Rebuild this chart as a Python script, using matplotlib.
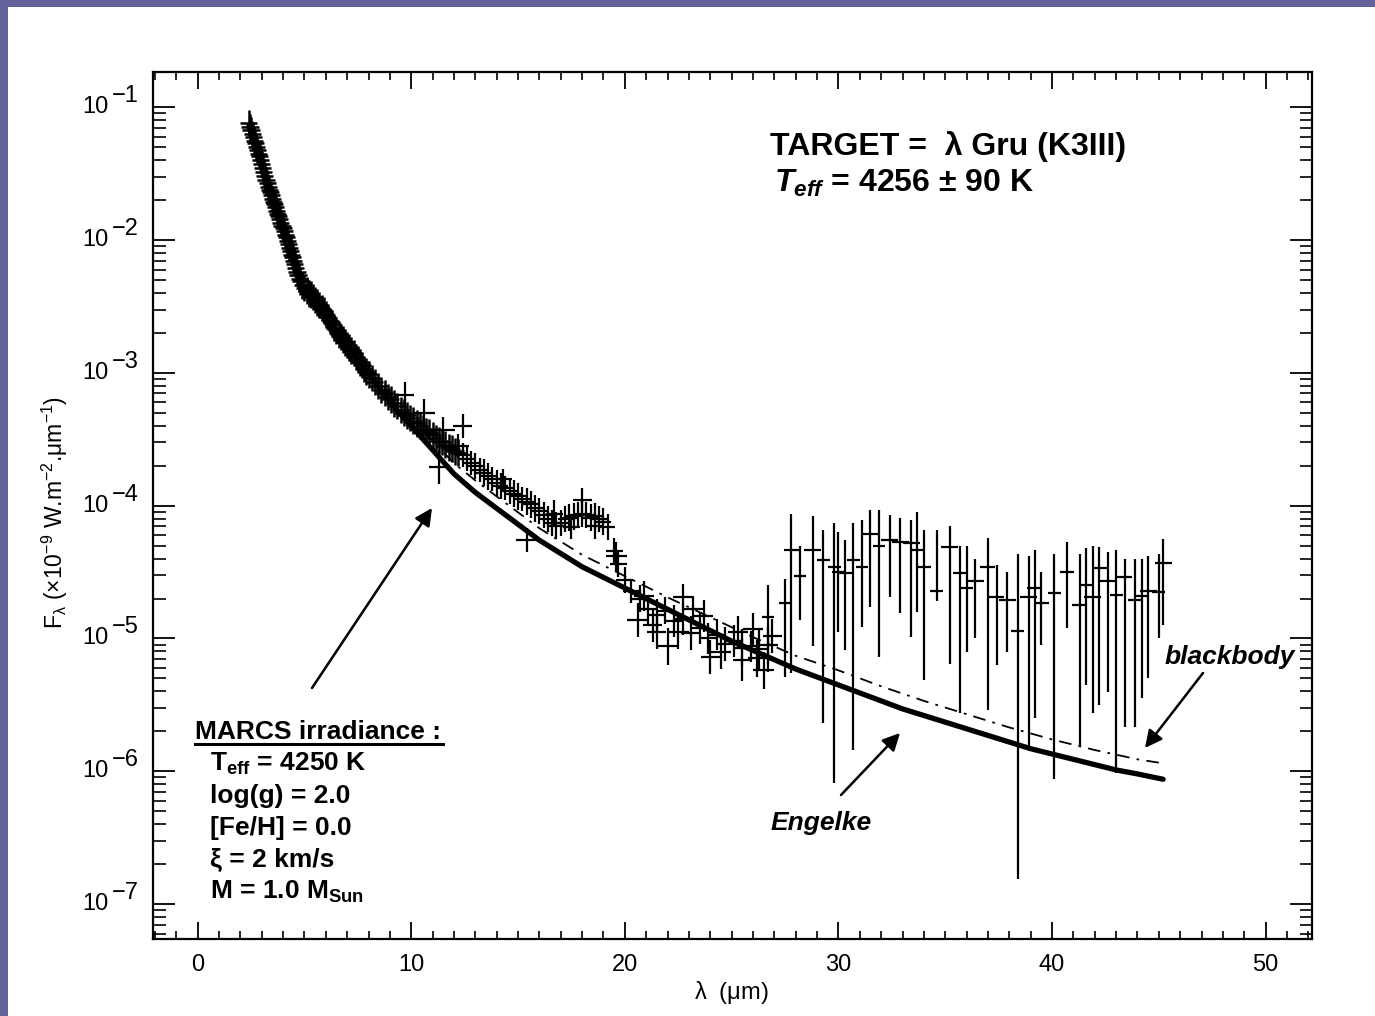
import numpy as np
import matplotlib
matplotlib.use('Agg')
import matplotlib.pyplot as plt
import matplotlib.transforms as mtransforms
from matplotlib.lines import Line2D
from matplotlib.patches import Rectangle
from matplotlib.ticker import MultipleLocator, LogLocator, NullFormatter

plt.rcParams['font.family'] = ['Liberation Sans', 'DejaVu Sans']
plt.rcParams['mathtext.fontset'] = 'custom'
plt.rcParams['mathtext.rm'] = 'Liberation Sans'
plt.rcParams['mathtext.it'] = 'Liberation Sans:bold:italic'
plt.rcParams['mathtext.bf'] = 'Liberation Sans:bold'

# ---- data (wavelength in micron, flux as log10 of F_lambda) ----
# dense short-wavelength spectrum
lam_a = [2.40, 2.45, 2.50, 2.55, 2.60, 2.65, 2.70, 2.75, 2.80, 2.85, 2.90, 2.95,
         3.00, 3.05, 3.10, 3.15, 3.20, 3.25, 3.30, 3.35, 3.40, 3.45, 3.50, 3.55,
         3.60, 3.65, 3.70, 3.75, 3.80, 3.85, 3.90, 3.95, 4.00, 4.05, 4.10, 4.15,
         4.20, 4.25, 4.30, 4.35, 4.40, 4.45, 4.50, 4.55, 4.60, 4.65, 4.70, 4.75,
         4.80, 4.90, 5.00, 5.10, 5.20, 5.30, 5.40, 5.50, 5.60, 5.70, 5.80, 5.90,
         6.00, 6.10, 6.20, 6.30, 6.40, 6.50, 6.60, 6.70, 6.80, 6.90, 7.00, 7.10,
         7.20, 7.30, 7.40, 7.50, 7.60, 7.70, 7.80, 7.90, 8.00, 8.15, 8.30, 8.45,
         8.60, 8.75, 8.90, 9.05, 9.20, 9.35, 9.50, 9.65, 9.80, 9.95, 10.1, 10.25,
         10.4, 10.55, 10.7, 10.85, 11.0, 11.15, 11.3, 11.45, 11.6, 11.75, 11.9, 12.05,
         12.2]
logf_a = [-1.12, -1.15, -1.17, -1.20, -1.22, -1.25, -1.27, -1.30, -1.32, -1.35, -1.37, -1.40,
          -1.43, -1.46, -1.49, -1.52, -1.55, -1.57, -1.60, -1.62, -1.64, -1.66, -1.69, -1.71,
          -1.73, -1.75, -1.78, -1.80, -1.82, -1.84, -1.87, -1.89, -1.91, -1.93, -1.96, -1.98,
          -2.01, -2.03, -2.06, -2.08, -2.11, -2.13, -2.16, -2.18, -2.21, -2.24, -2.26, -2.29,
          -2.31, -2.34, -2.36, -2.38, -2.40, -2.41, -2.43, -2.45, -2.47, -2.49, -2.51, -2.53,
          -2.56, -2.58, -2.61, -2.63, -2.66, -2.68, -2.71, -2.73, -2.75, -2.77, -2.79, -2.81,
          -2.83, -2.85, -2.88, -2.90, -2.92, -2.94, -2.97, -2.99, -3.01, -3.04, -3.07, -3.10,
          -3.13, -3.15, -3.18, -3.20, -3.23, -3.25, -3.28, -3.30, -3.32, -3.34, -3.36, -3.38,
          -3.40, -3.42, -3.44, -3.45, -3.47, -3.49, -3.51, -3.52, -3.54, -3.56, -3.57, -3.59,
          -3.60]
xerr_a = 0.4
yerr_a = 0.1

# mid-infrared points
lam_b = [12.4, 12.6, 12.8, 13.0, 13.2, 13.4, 13.6, 13.8, 14.0, 14.2, 14.4, 14.6,
         14.8, 15.0, 15.2, 15.4, 15.6, 15.8, 16.0, 16.2, 16.4, 16.6, 16.8, 17.0,
         17.2, 17.4, 17.6, 17.8, 18.0, 18.2, 18.4, 18.6, 18.8, 19.0, 19.2,
         19.5, 19.7, 20.0, 20.3, 20.7, 21.1, 21.5, 21.9, 22.3, 22.7, 23.1, 23.5,
         23.9, 24.3, 24.7, 25.1, 25.5, 25.9, 26.3, 26.7,
         9.7, 10.6, 11.5, 12.2, 11.3, 12.4, 15.4, 18.0, 17.5, 19.6, 20.6, 22.0,
         22.7, 21.5, 23.2, 24.0, 25.5, 26.5, 26.0, 20.9, 21.3, 22.5, 23.7, 24.5,
         25.3, 26.2, 26.9, 14.3, 16.7, 18.6]
logf_b = [-3.62, -3.65, -3.68, -3.70, -3.73, -3.75, -3.78, -3.80, -3.83, -3.85, -3.87, -3.89,
          -3.91, -3.93, -3.95, -3.97, -3.99, -4.02, -4.04, -4.07, -4.10, -4.13, -4.15, -4.13,
          -4.10, -4.09, -4.08, -4.07, -4.06, -4.07, -4.09, -4.08, -4.10, -4.12, -4.16,
          -4.34, -4.44, -4.56, -4.64, -4.70, -4.78, -4.82, -4.79, -4.87, -4.85, -4.96, -4.92,
          -5.00, -4.97, -5.04, -5.02, -5.07, -5.06, -5.08, -5.05,
          -3.17, -3.30, -3.43, -3.55, -3.71, -3.40, -4.26, -3.96, -4.16, -4.38, -4.86, -5.06,
          -4.69, -4.95, -4.78, -5.14, -5.16, -5.24, -4.93, -4.68, -4.90, -4.95, -4.83, -5.10,
          -4.95, -5.15, -4.98, -3.80, -4.06, -4.15]
xerr_b = [0.35, 0.35, 0.35, 0.35, 0.35, 0.35, 0.35, 0.35, 0.35, 0.35, 0.35, 0.35,
          0.35, 0.35, 0.35, 0.35, 0.35, 0.35, 0.35, 0.35, 0.35, 0.35, 0.35, 0.35,
          0.35, 0.35, 0.35, 0.35, 0.35, 0.35, 0.35, 0.35, 0.35, 0.35, 0.35,
          0.4, 0.4, 0.4, 0.4, 0.4, 0.4, 0.45, 0.45, 0.45, 0.45, 0.45, 0.45,
          0.45, 0.45, 0.45, 0.45, 0.45, 0.45, 0.45, 0.45,
          0.45, 0.5, 0.55, 0.5, 0.45, 0.45, 0.5, 0.45, 0.4, 0.5, 0.5, 0.55,
          0.45, 0.45, 0.5, 0.45, 0.45, 0.5, 0.45, 0.45, 0.45, 0.5, 0.45, 0.45,
          0.45, 0.45, 0.45, 0.4, 0.4, 0.4]
yerr_b = [0.09, 0.09, 0.09, 0.10, 0.09, 0.10, 0.10, 0.09, 0.10, 0.10, 0.09, 0.10,
          0.10, 0.10, 0.09, 0.10, 0.10, 0.10, 0.10, 0.10, 0.10, 0.10, 0.10, 0.10,
          0.10, 0.10, 0.10, 0.10, 0.10, 0.10, 0.10, 0.10, 0.10, 0.10, 0.10,
          0.10, 0.10, 0.10, 0.09, 0.10, 0.11, 0.12, 0.10, 0.12, 0.12, 0.13, 0.12,
          0.12, 0.12, 0.13, 0.12, 0.14, 0.12, 0.16, 0.14,
          0.10, 0.10, 0.10, 0.09, 0.13, 0.09, 0.09, 0.09, 0.09, 0.11, 0.13, 0.14,
          0.10, 0.13, 0.10, 0.13, 0.16, 0.14, 0.12, 0.11, 0.13, 0.13, 0.12, 0.13,
          0.12, 0.14, 0.13, 0.08, 0.10, 0.10]

# long-wavelength band with large error bars
lam_c = [26.7, 27.5, 27.8, 28.2, 28.8, 29.3, 29.8, 30.3, 30.7, 31.1, 31.5, 31.9,
         32.4, 32.9, 33.4, 34.0, 34.6, 35.2, 35.7, 36.4, 37.0, 37.4, 37.9, 38.4,
         38.9, 39.5, 40.1, 40.7, 41.3, 41.9, 42.2, 42.6, 43.0, 43.4, 43.9, 44.5,
         45.0, 45.2, 30.0, 33.7, 36.0, 39.2, 41.6, 44.2]
logf_c = [-4.84, -4.73, -4.33, -4.53, -4.33, -4.41, -4.46, -4.51, -4.41, -4.46, -4.21, -4.30,
          -4.26, -4.27, -4.28, -4.46, -4.64, -4.31, -4.51, -4.57, -4.46, -4.69, -4.71, -4.94,
          -4.69, -4.73, -4.66, -4.50, -4.75, -4.69, -4.47, -4.57, -4.67, -4.54, -4.71, -4.64,
          -4.65, -4.43, -4.50, -4.33, -4.62, -4.62, -4.60, -4.68]
xerr_c = [0.3, 0.3, 0.35, 0.3, 0.4, 0.3, 0.3, 0.35, 0.3, 0.3, 0.4, 0.3,
          0.4, 0.4, 0.4, 0.35, 0.3, 0.4, 0.35, 0.4, 0.35, 0.35, 0.4, 0.3,
          0.4, 0.35, 0.3, 0.35, 0.35, 0.4, 0.35, 0.35, 0.3, 0.35, 0.35, 0.4,
          0.3, 0.4, 0.3, 0.35, 0.3, 0.35, 0.3, 0.3]
loglo_c = [-5.25, -5.29, -5.26, -4.86, -5.06, -5.64, -6.09, -5.09, -5.84, -4.91, -4.76, -5.14,
           -4.69, -4.81, -4.99, -5.31, -4.72, -5.19, -5.56, -5.00, -5.54, -5.20, -5.10, -6.81,
           -5.82, -5.05, -6.06, -4.92, -5.82, -5.56, -5.50, -5.40, -6.01, -5.67, -5.67, -5.30,
           -5.00, -4.90, -4.95, -4.80, -5.10, -5.60, -5.35, -5.45]
loghi_c = [-4.60, -4.55, -4.06, -4.30, -4.08, -4.18, -4.13, -4.26, -4.13, -4.11, -4.03, -4.03,
           -4.07, -4.09, -4.11, -4.18, -4.18, -4.15, -4.30, -4.40, -4.24, -4.45, -4.50, -4.36,
           -4.38, -4.50, -4.36, -4.27, -4.36, -4.30, -4.31, -4.35, -4.33, -4.40, -4.40, -4.38,
           -4.36, -4.25, -4.20, -4.05, -4.30, -4.33, -4.32, -4.40]

# Engelke model curve
lam_eng = [2.4, 2.8, 3.2, 3.6, 4.0, 4.4, 4.8, 5.5, 6.5, 7.5, 8.5, 9.0, 9.5, 10.0, 10.5,
           11.0, 11.5, 12.0, 12.5, 13.0, 13.5, 14.0, 14.5, 15.0, 15.5, 16.0, 16.5, 17.0,
           17.5, 18.0, 18.5, 19.0, 19.5, 20.0, 21.0, 22.0, 23.0, 24.0, 25.0, 26.0, 27.0,
           28.0, 29.0, 30.0, 31.0, 32.0, 33.0, 34.0, 35.0, 36.0, 37.0, 38.0, 39.0, 40.0,
           41.0, 42.0, 43.0, 44.0, 45.2]
logf_eng = [-1.14, -1.34, -1.55, -1.74, -1.92, -2.12, -2.32, -2.46, -2.70, -2.90, -3.11, -3.21,
            -3.31, -3.40, -3.49, -3.58, -3.67, -3.76, -3.83, -3.90, -3.96, -4.02, -4.08, -4.14,
            -4.20, -4.26, -4.31, -4.36, -4.41, -4.46, -4.50, -4.54, -4.58, -4.62, -4.70, -4.78,
            -4.86, -4.94, -5.02, -5.09, -5.16, -5.23, -5.29, -5.35, -5.41, -5.47, -5.53, -5.58,
            -5.63, -5.68, -5.73, -5.78, -5.83, -5.87, -5.91, -5.95, -5.99, -6.02, -6.06]

# blackbody curve
lam_bb = [2.4, 3.0, 4.0, 5.0, 6.0, 7.0, 8.0, 9.0, 10.0, 11.0, 12.0, 13.0, 14.0, 15.0,
          16.0, 17.0, 18.0, 19.0, 20.0, 22.0, 24.0, 26.0, 28.0, 30.0, 32.0, 34.0, 36.0,
          38.0, 40.0, 42.0, 44.0, 45.2]
logf_bb = [-1.14, -1.45, -1.91, -2.34, -2.55, -2.77, -2.96, -3.16, -3.34, -3.51, -3.68, -3.81,
           -3.93, -4.05, -4.17, -4.27, -4.37, -4.45, -4.53, -4.69, -4.84, -4.99, -5.13, -5.24,
           -5.36, -5.47, -5.57, -5.67, -5.76, -5.84, -5.91, -5.94]

y_decades = [-7, -6, -5, -4, -3, -2, -1]
x_ticks = [0, 10, 20, 30, 40, 50]

W, H = 1375, 1016

def fx(px):
    return px / W

def fy(py):
    return 1 - py / H

fig = plt.figure(figsize=(W / 100, H / 100), dpi=100)
fig.patch.set_facecolor('#62639a')
fig.add_artist(Rectangle((fx(8), 0), 1, fy(7), transform=fig.transFigure,
                         facecolor='white', edgecolor='none', zorder=-10))

ax = fig.add_axes([fx(153), fy(939), fx(1312) - fx(153), fy(72) - fy(939)])
ax.set_facecolor('white')
ax.set_yscale('log')
ax.set_xlim(-2.09, 52.17)
ax.set_ylim(10 ** -7.263, 10 ** -0.734)

# lines
ax.plot(lam_bb, 10 ** np.array(logf_bb), color='k', lw=1.3, dashes=(7, 4, 1.5, 4), zorder=2)
ax.plot(lam_eng, 10 ** np.array(logf_eng), color='k', lw=3.8, solid_capstyle='round',
        solid_joinstyle='round', zorder=3)

# data crosses
f_a = 10 ** np.array(logf_a)
ax.errorbar(lam_a, f_a, xerr=xerr_a,
            yerr=[f_a - f_a * 10 ** -yerr_a, f_a * 10 ** yerr_a - f_a],
            fmt='none', ecolor='k', elinewidth=1.8, capsize=0, zorder=4)

f_b = 10 ** np.array(logf_b)
eb = np.array(yerr_b)
ax.errorbar(lam_b, f_b, xerr=xerr_b,
            yerr=[f_b - f_b * 10 ** -eb, f_b * 10 ** eb - f_b],
            fmt='none', ecolor='k', elinewidth=1.6, capsize=0, zorder=4)

f_c = 10 ** np.array(logf_c)
ax.errorbar(lam_c, f_c, xerr=xerr_c,
            yerr=[f_c - 10 ** np.array(loglo_c), 10 ** np.array(loghi_c) - f_c],
            fmt='none', ecolor='k', elinewidth=1.6, capsize=0, zorder=4)

# axes styling
for s in ax.spines.values():
    s.set_linewidth(1.6)
ax.xaxis.set_minor_locator(MultipleLocator(1))
ax.set_xticks(x_ticks)
ax.set_xticklabels([str(t) for t in x_ticks])
ax.yaxis.set_major_locator(LogLocator(base=10, numticks=20))
ax.yaxis.set_minor_locator(LogLocator(base=10, subs=np.arange(2, 10), numticks=20))
ax.yaxis.set_minor_formatter(NullFormatter())
ax.tick_params(which='both', direction='in', top=True, right=True, colors='k')
ax.tick_params(axis='x', which='major', length=12, width=1.3, labelsize=17, pad=11)
ax.tick_params(axis='x', which='minor', length=6, width=1.2)
ax.tick_params(axis='y', which='major', length=16, width=1.3, labelleft=False)
ax.tick_params(axis='y', which='minor', length=9, width=1.2)

# y tick labels drawn as 10 with a raised exponent
trans = mtransforms.blended_transform_factory(ax.transAxes, ax.transData)
trans_up = mtransforms.offset_copy(trans, fig=fig, x=0, y=11, units='dots')
for e in y_decades:
    ax.text(-0.0385, 10.0 ** e, '10', transform=trans, ha='right', va='center', fontsize=17)
    ax.text(-0.0355, 10.0 ** e, '\u2212%d' % (-e), transform=trans_up, ha='left', va='center',
            fontsize=17)

fig.text(fx(731), fy(993), r'$\mathrm{\lambda}$  ($\mathrm{\mu}$m)', ha='center', va='center',
         fontsize=17)
fig.text(fx(55), fy(512),
         r'F$_{\mathrm{\lambda}}$ ($\mathrm{\times}$10$^{\mathrm{-9}}$ W.m$^{\mathrm{-2}}$.$\mathrm{\mu}$m$^{\mathrm{-1}}$)',
         rotation=90, ha='center', va='center', fontsize=16.5)

# annotations
fig.text(fx(770), fy(155), 'TARGET =  \u03bb Gru (K3III)', fontsize=23, fontweight='bold',
         ha='left', va='baseline')
fig.text(fx(774), fy(192), '$\\mathit{T}_{\\mathit{eff}}$ = 4256 \u00b1 90 K',
         fontsize=23, fontweight='bold', ha='left', va='baseline')

fig.text(fx(195), fy(739), 'MARCS irradiance :', fontsize=19, fontweight='bold',
         ha='left', va='baseline')
fig.add_artist(Line2D([fx(195), fx(443)], [fy(744), fy(744)], color='k', lw=2.2))
marcs_lines = [r'$\mathbf{T}_{\mathbf{eff}}$ = 4250 K', 'log(g) = 2.0', '[Fe/H] = 0.0',
               '\u03be = 2 km/s', r'M = 1.0 $\mathbf{M}_{\mathbf{Sun}}$']
for i, t in enumerate(marcs_lines):
    fig.text(fx(210), fy(771 + 32 * i), t, fontsize=19, fontweight='bold',
             ha='left', va='baseline')

fig.text(fx(771), fy(830), 'Engelke', fontsize=19, fontweight='bold', fontstyle='italic',
         ha='left', va='baseline')
fig.text(fx(1165), fy(664), 'blackbody', fontsize=19, fontweight='bold', fontstyle='italic',
         ha='left', va='baseline')

arrow = dict(arrowstyle='-|>', mutation_scale=26, lw=1.8, color='k', shrinkA=0, shrinkB=0)
for tail, head in [((312, 688), (432, 508)), ((841, 795), (900, 733)), ((1203, 673), (1145, 748))]:
    ax.annotate('', xy=(head[0], H - head[1]), xycoords='figure pixels',
                xytext=(tail[0], H - tail[1]), textcoords='figure pixels', arrowprops=arrow)

fig.savefig('out.png', dpi=100, facecolor=fig.get_facecolor())
